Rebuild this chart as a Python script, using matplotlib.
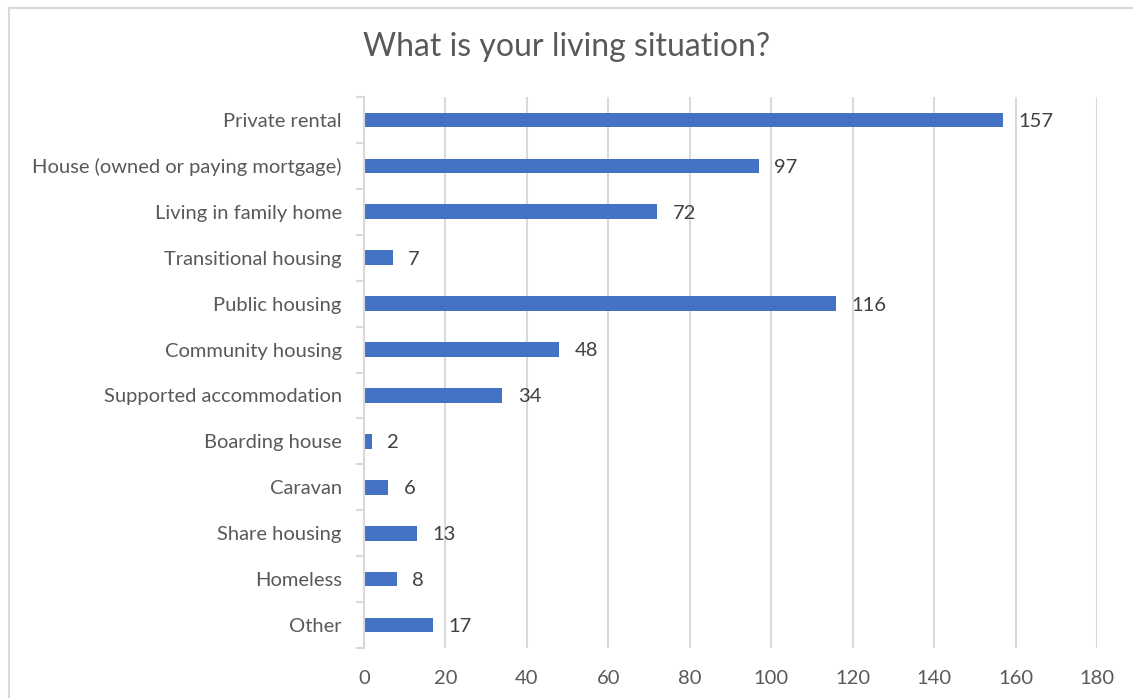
import numpy as np
import matplotlib.pyplot as plt
from matplotlib.lines import Line2D

categories = ['Private rental', 'House (owned or paying mortgage)', 'Living in family home',
              'Transitional housing', 'Public housing', 'Community housing',
              'Supported accommodation', 'Boarding house', 'Caravan', 'Share housing',
              'Homeless', 'Other']
counts = [157, 97, 72, 7, 116, 48, 34, 2, 6, 13, 8, 17]
x_ticks = [0, 20, 40, 60, 80, 100, 120, 140, 160, 180]

text_color = '#595959'
grid_color = '#d9d9d9'
bar_color = '#4472c4'

plt.rcParams['font.family'] = ['Lato', 'DejaVu Sans']

fig = plt.figure(figsize=(11.33, 6.98), dpi=100)
ax = fig.add_axes([364 / 1133, 1 - 648 / 698, (1097 - 364) / 1133, (648 - 97) / 698])

y = np.arange(len(categories))
ax.barh(y, counts, height=0.32, color=bar_color, zorder=3)
for yi, v in zip(y, counts):
    ax.annotate(str(v), (v, yi), xytext=(11, -1), textcoords='offset points',
                va='center', ha='left', fontsize=14.5, color='#404040')

ax.set_ylim(len(categories) - 0.5, -0.5)
ax.set_xlim(0, 180)
ax.set_xticks(x_ticks)
ax.set_yticks(y)
ax.set_yticklabels(categories)
ax.set_yticks(np.arange(-0.5, len(categories)), minor=True)

ax.grid(axis='x', color=grid_color, linewidth=1.5, zorder=0)
for s in ['top', 'right', 'bottom']:
    ax.spines[s].set_visible(False)
ax.spines['left'].set_color(grid_color)
ax.spines['left'].set_linewidth(1.5)
ax.spines['left'].set_zorder(4)

ax.tick_params(axis='x', length=0, labelsize=14.5, labelcolor=text_color, pad=16)
ax.tick_params(axis='y', which='major', length=0, labelsize=14.5, labelcolor=text_color, pad=16)
ax.tick_params(axis='y', which='minor', length=6, width=1.5, color=grid_color)

fig.text(0.5, 1 - 47 / 698, 'What is your living situation?', ha='center', va='center',
         fontsize=23, color=text_color)

# chart frame (top and left edges)
fig.add_artist(Line2D([8.5 / 1133, 8.5 / 1133], [0, 1 - 7.5 / 698], color=grid_color, lw=1.5))
fig.add_artist(Line2D([8.5 / 1133, 1], [1 - 7.5 / 698, 1 - 7.5 / 698], color=grid_color, lw=1.5))

fig.savefig('out.png', dpi=100)
